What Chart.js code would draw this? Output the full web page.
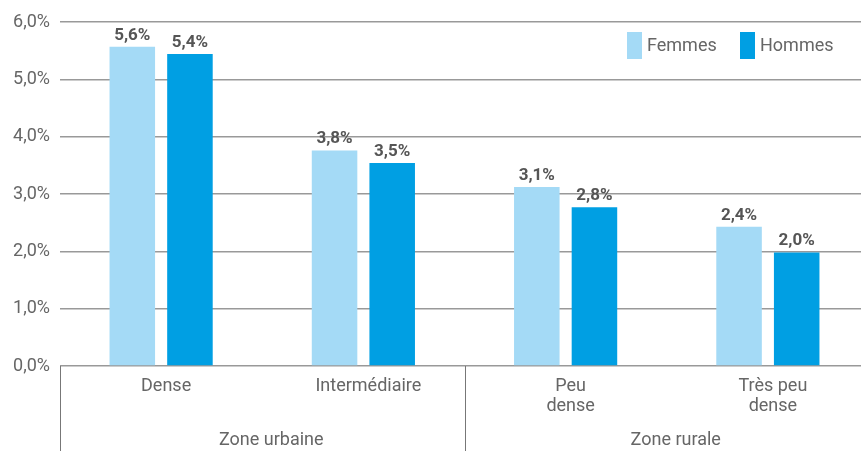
<!DOCTYPE html>
<html><head><meta charset="utf-8">
<script src="https://cdn.jsdelivr.net/npm/chart.js@4"></script>
<style>
html,body{margin:0;padding:0;background:#fff;overflow:hidden;}
#wrap{width:869px;height:451px;position:relative;}
</style></head>
<body><div id="wrap"><canvas id="c"></canvas></div>
<script>
const categories = [["Dense"], ["Intermédiaire"], ["Peu", "dense"], ["Très peu", "dense"]];
const groups = ["Zone urbaine", "Zone rurale"];
const groupSpans = [[0, 1], [2, 3]];
const femmes = [5.57, 3.76, 3.12, 2.43];
const hommes = [5.44, 3.54, 2.77, 1.98];
const seriesNames = ["Femmes", "Hommes"];
const yTicks = [0, 1, 2, 3, 4, 5, 6];

const FONT = "'Liberation Sans Narrow', 'Roboto', 'Liberation Sans', sans-serif";
const fmt = v => v.toFixed(1).replace('.', ',') + '%';

const extras = {
  id: 'extras',
  afterDraw(chart) {
    const ctx = chart.ctx, xs = chart.scales.x, ca = chart.chartArea;
    const H = chart.height;
    ctx.save();
    // data labels
    ctx.font = "bold 17px " + FONT;
    ctx.fillStyle = '#555';
    ctx.textAlign = 'center';
    ctx.textBaseline = 'alphabetic';
    chart.data.datasets.forEach((ds, i) => {
      chart.getDatasetMeta(i).data.forEach((bar, j) => {
        ctx.fillText(fmt(ds.data[j]), bar.x, bar.y - 7);
      });
    });
    // group separators
    ctx.strokeStyle = '#777';
    ctx.lineWidth = 1;
    const half = (xs.getPixelForValue(1) - xs.getPixelForValue(0)) / 2;
    const bounds = [xs.getPixelForValue(0) - half, xs.getPixelForValue(2) - half];
    bounds.forEach(x => {
      const px = Math.round(x) + 0.5;
      ctx.beginPath(); ctx.moveTo(px, ca.bottom); ctx.lineTo(px, H); ctx.stroke();
    });
    // group labels
    ctx.font = "18px " + FONT;
    ctx.fillStyle = '#666';
    ctx.textBaseline = 'middle';
    groups.forEach((g, k) => {
      const [a, b] = groupSpans[k];
      const cx = (xs.getPixelForValue(a) + xs.getPixelForValue(b)) / 2 + 9;
      ctx.fillText(g, cx, 440);
    });
    // legend
    let lx = 627;
    ctx.textAlign = 'left';
    ctx.font = "18px " + FONT;
    chart.data.datasets.forEach((ds, i) => {
      ctx.fillStyle = ds.backgroundColor;
      ctx.fillRect(lx, 32, 15, 27);
      ctx.fillStyle = '#666';
      ctx.fillText(ds.label, lx + 20, 46);
      lx += 113;
    });
    ctx.restore();
  }
};

new Chart(document.getElementById('c'), {
  type: 'bar',
  data: {
    labels: categories,
    datasets: [
      { label: seriesNames[0], data: femmes, backgroundColor: '#a4daf6' },
      { label: seriesNames[1], data: hommes, backgroundColor: '#009fe3' }
    ]
  },
  options: {
    responsive: true,
    maintainAspectRatio: false,
    animation: false,
    layout: { padding: { top: 22, right: 0, left: 0, bottom: 0 } },
    plugins: { legend: { display: false }, tooltip: { enabled: false } },
    datasets: { bar: { categoryPercentage: 0.57, barPercentage: 0.79 } },
    scales: {
      x: {
        grid: { display: false },
        border: { display: false },
        ticks: { color: '#666', font: { family: FONT, size: 18, lineHeight: 1.1 }, padding: 3, labelOffset: 5, maxRotation: 0, autoSkip: false },
        afterFit(s) { s.height = 85; }
      },
      y: {
        min: 0, max: 6,
        afterBuildTicks(s) { s.ticks = yTicks.map(v => ({ value: v })); },
        grid: { color: '#999', lineWidth: 1.5, drawTicks: false },
        border: { display: false },
        ticks: { color: '#666', font: { family: FONT, size: 18 }, padding: 10, callback: v => fmt(v) },
        afterFit(s) { s.width = 60; }
      }
    }
  },
  plugins: [extras]
});
</script></body></html>
